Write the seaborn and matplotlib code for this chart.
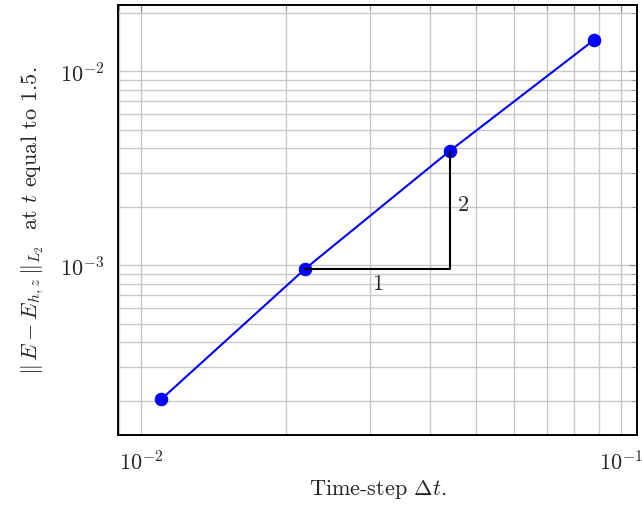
import matplotlib
matplotlib.use("Agg")
import matplotlib.pyplot as plt
import seaborn as sns
import numpy as np

# time steps and L2 errors
dt = [0.011, 0.022, 0.044, 0.088]
err = [2.03e-4, 9.6e-4, 3.88e-3, 1.45e-2]

# slope triangle between the 2nd and 3rd points
tri_x = [dt[1], dt[2], dt[2]]
tri_y = [err[1], err[1], err[2]]

sns.set_style('white')
plt.rcParams['font.family'] = 'serif'
plt.rcParams['font.serif'] = ['cmr10', 'DejaVu Serif']
plt.rcParams['mathtext.fontset'] = 'cm'
plt.rcParams['axes.formatter.use_mathtext'] = True
plt.rcParams['axes.unicode_minus'] = False

fig, ax = plt.subplots(figsize=(6.42, 5.1), dpi=100)
fig.subplots_adjust(left=0.184, right=0.992, top=0.988, bottom=0.145)

sns.lineplot(x=dt, y=err, ax=ax, color='blue', marker='o', markersize=9,
             markeredgecolor='blue', linewidth=1.5)
ax.plot(tri_x, tri_y, color='black', linewidth=1.5)

ax.set_xscale('log')
ax.set_yscale('log')
ax.set_xlim(0.00895, 0.108)
ax.set_ylim(1.33e-4, 0.0219)

ax.grid(True, which='both', color='#c8c8c8', linewidth=1.0)
ax.tick_params(which='both', direction='in', top=True, right=True,
               color='#888888', labelsize=16)
ax.tick_params(which='major', length=6)
ax.tick_params(which='minor', length=3.5, labelbottom=False, labelleft=False)
ax.tick_params(axis='x', pad=10)
ax.tick_params(axis='y', pad=10)
for s in ax.spines.values():
    s.set_color('black')
    s.set_linewidth(1.4)

# slope labels
ax.text(np.sqrt(dt[1] * dt[2]), err[1] * 0.84, '1', ha='center', va='center',
        fontsize=16)
ax.text(dt[2] * 1.07, np.sqrt(err[1] * err[2]) * 1.07, '2', ha='center',
        va='center', fontsize=16)

ax.set_xlabel(r'Time-step $\Delta t$.', fontsize=16, labelpad=3)
ax.set_ylabel(r'$\Vert\, E - E_{h,z} \,\Vert_{L_2}$  at $t$ equal to 1.5.',
              fontsize=16, labelpad=10)

plt.savefig('out.png', dpi=100)
